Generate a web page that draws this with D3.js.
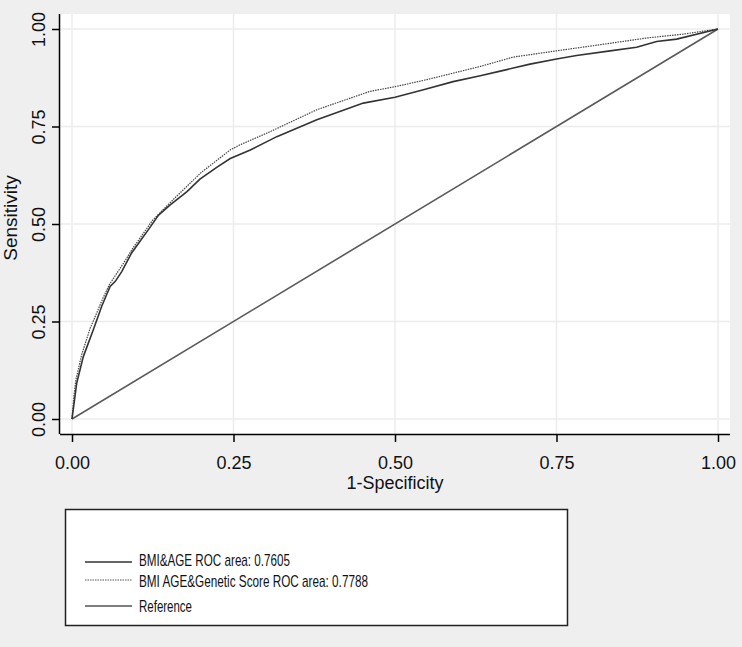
<!DOCTYPE html>
<html>
<head>
<meta charset="utf-8">
<script src="https://cdn.jsdelivr.net/npm/d3@7"></script>
<style>
  body { margin: 0; background: #efefef; }
  svg { display: block; font-family: "Liberation Sans", Arial, sans-serif; }
</style>
</head>
<body>
<div id="chart"></div>
<script>
// ROC points: [1-specificity, sensitivity]
var bmiAge = [[0,0],[0.004,0.05],[0.0073,0.092],[0.0175,0.16],[0.033,0.229],[0.046,0.289],[0.059,0.34],[0.067,0.353],[0.077,0.378],[0.092,0.425],[0.105,0.455],[0.118,0.485],[0.134,0.523],[0.152,0.549],[0.178,0.583],[0.198,0.615],[0.224,0.645],[0.245,0.668],[0.276,0.69],[0.317,0.724],[0.379,0.767],[0.451,0.81],[0.5,0.825],[0.544,0.844],[0.590,0.865],[0.632,0.880],[0.663,0.892],[0.709,0.910],[0.750,0.923],[0.781,0.932],[0.833,0.944],[0.874,0.953],[0.905,0.968],[0.936,0.974],[1,1]];
var bmiAgeGenetic = [[0,0],[0.003,0.06],[0.006,0.1],[0.015,0.165],[0.028,0.232],[0.036,0.263],[0.048,0.31],[0.058,0.345],[0.068,0.37],[0.08,0.40],[0.095,0.44],[0.11,0.475],[0.125,0.51],[0.14,0.535],[0.16,0.568],[0.18,0.6],[0.2,0.632],[0.245,0.69],[0.260,0.703],[0.307,0.737],[0.379,0.793],[0.461,0.840],[0.5,0.852],[0.549,0.870],[0.632,0.904],[0.683,0.928],[0.750,0.944],[0.823,0.961],[0.890,0.977],[0.947,0.987],[1,1]];
var reference = [[0,0],[1,1]];
var tickValues = [0, 0.25, 0.5, 0.75, 1];
var legendLabels = ["BMI&AGE ROC area: 0.7605", "BMI AGE&Genetic Score ROC area: 0.7788", "Reference"];

var width = 742, height = 647;

var svg = d3.select("#chart").append("svg")
  .attr("width", width)
  .attr("height", height);

svg.append("rect").attr("width", width).attr("height", height).attr("fill", "#efefef");

// plot region
var plotLeft = 60, plotRight = 730, plotTop = 14, plotBottom = 434;
svg.append("rect")
  .attr("x", plotLeft).attr("y", plotTop)
  .attr("width", plotRight - plotLeft).attr("height", plotBottom - plotTop)
  .attr("fill", "#ffffff");

var x = d3.scaleLinear().domain([0, 1]).range([72, 718]);
var y = d3.scaleLinear().domain([0, 1]).range([419, 29]);

// grid lines
svg.append("g").selectAll("line.vg")
  .data(tickValues).enter().append("line")
  .attr("x1", function(d) { return x(d); }).attr("x2", function(d) { return x(d); })
  .attr("y1", plotTop).attr("y2", plotBottom)
  .attr("stroke", "#ececec").attr("stroke-width", 1.5);
svg.append("g").selectAll("line.hg")
  .data(tickValues).enter().append("line")
  .attr("y1", function(d) { return y(d); }).attr("y2", function(d) { return y(d); })
  .attr("x1", plotLeft).attr("x2", plotRight)
  .attr("stroke", "#ececec").attr("stroke-width", 1.5);

// axes
var xAxis = svg.append("g")
  .attr("transform", "translate(0," + plotBottom + ")")
  .call(d3.axisBottom(x).tickValues(tickValues).tickFormat(d3.format(".2f")).tickSize(8).tickSizeOuter(0));
xAxis.select(".domain").attr("d", "M" + plotLeft + ",0.5H" + plotRight).attr("stroke", "#000").attr("stroke-width", 1.5);
xAxis.selectAll(".tick line").attr("stroke", "#000").attr("stroke-width", 1.5);
xAxis.selectAll(".tick text")
  .attr("y", 35).attr("dy", null)
  .style("font-size", "18px").attr("fill", "#111")
  .style("font-family", "'Liberation Sans', Arial, sans-serif");

var yAxis = svg.append("g")
  .attr("transform", "translate(" + plotLeft + ",0)")
  .call(d3.axisLeft(y).tickValues(tickValues).tickFormat(d3.format(".2f")).tickSize(8).tickSizeOuter(0));
yAxis.select(".domain").attr("d", "M-0.5," + plotTop + "V" + plotBottom).attr("stroke", "#000").attr("stroke-width", 1.5);
yAxis.selectAll(".tick line").attr("stroke", "#000").attr("stroke-width", 1.5);
yAxis.selectAll(".tick text")
  .attr("x", null).attr("dy", null)
  .attr("text-anchor", "middle")
  .attr("transform", "translate(-15,0) rotate(-90)")
  .style("font-size", "18px").attr("fill", "#111")
  .style("font-family", "'Liberation Sans', Arial, sans-serif");

// axis titles
svg.append("text")
  .attr("x", 395).attr("y", 489)
  .attr("text-anchor", "middle")
  .style("font-size", "18px").attr("fill", "#111")
  .text("1-Specificity");

svg.append("text")
  .attr("transform", "translate(17,218) rotate(-90)")
  .attr("text-anchor", "middle")
  .style("font-size", "19px").attr("fill", "#111")
  .text("Sensitivity");

// curves
var line = d3.line()
  .x(function(d) { return x(d[0]); })
  .y(function(d) { return y(d[1]); });

svg.append("path").datum(reference)
  .attr("d", line).attr("fill", "none")
  .attr("stroke", "#5a5a5a").attr("stroke-width", 1.6);

svg.append("path").datum(bmiAgeGenetic)
  .attr("d", line).attr("fill", "none")
  .attr("stroke", "#444").attr("stroke-width", 1.2)
  .attr("stroke-dasharray", "1.5,1");

svg.append("path").datum(bmiAge)
  .attr("d", line).attr("fill", "none")
  .attr("stroke", "#333").attr("stroke-width", 1.6);

// legend
svg.append("rect")
  .attr("x", 65.5).attr("y", 509.5)
  .attr("width", 502).attr("height", 116)
  .attr("fill", "#fff").attr("stroke", "#222").attr("stroke-width", 1.5);

var legendY = [562, 580, 606];
var legendBaseline = [566, 587, 612];
var legendStyle = [
  { stroke: "#333", width: 1.6, dash: null },
  { stroke: "#555", width: 1.2, dash: "1.5,1" },
  { stroke: "#555", width: 1.6, dash: null }
];
var legendWidths = [151, 229, 53];

var legend = svg.selectAll(".legend")
  .data(legendLabels)
  .enter().append("g")
  .attr("class", "legend");

legend.append("line")
  .attr("x1", 85).attr("x2", 132)
  .attr("y1", function(d, i) { return legendY[i]; })
  .attr("y2", function(d, i) { return legendY[i]; })
  .attr("stroke", function(d, i) { return legendStyle[i].stroke; })
  .attr("stroke-width", function(d, i) { return legendStyle[i].width; })
  .attr("stroke-dasharray", function(d, i) { return legendStyle[i].dash; });

legend.append("text")
  .attr("x", 139)
  .attr("y", function(d, i) { return legendBaseline[i]; })
  .style("font-size", "17px").attr("fill", "#111")
  .attr("textLength", function(d, i) { return legendWidths[i]; })
  .attr("lengthAdjust", "spacingAndGlyphs")
  .text(function(d) { return d; });
</script>
</body>
</html>
